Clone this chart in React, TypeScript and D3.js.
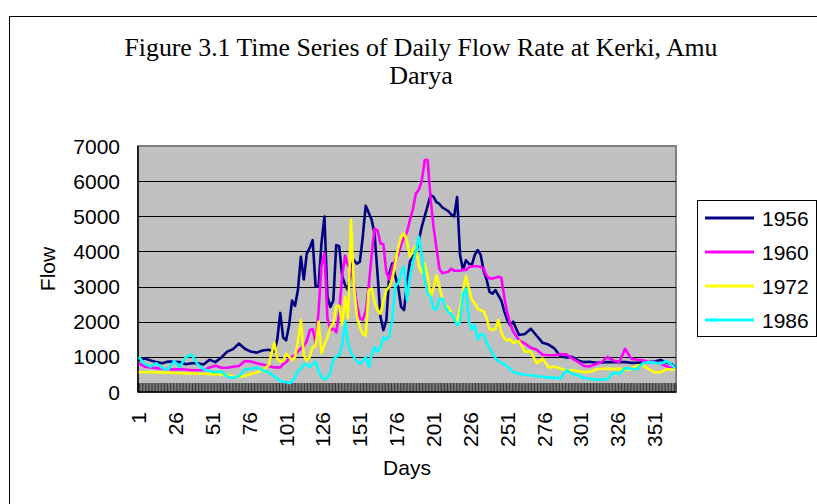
import React, { useEffect, useRef } from 'react';
import * as d3 from 'd3';

// day numbers the values were read at (denser where the flow moves fast)
const days = [
  1, 5, 9, 13, 17, 21, 25, 29, 33, 37, 41, 45, 49, 53, 57, 61, 65, 69, 73, 77, 81, 85, 89, 93,
  95, 97, 99, 101, 103, 105, 107, 109, 111, 113,
  115, 117, 119, 121, 123, 125, 127, 129, 131, 133,
  135, 137, 139, 141, 143, 145, 147, 149, 151, 153,
  155, 157, 159, 161, 163, 165, 167, 169, 171, 173,
  175, 177, 179, 181, 183, 185, 187, 189, 191, 193,
  195, 197, 199, 201, 203, 205, 207, 209, 211, 213,
  215, 217, 219, 221, 223, 225, 227, 229, 231, 233,
  235, 237, 239, 241, 243, 245, 247, 249, 251, 253,
  255,
  259, 263, 267, 271, 275, 279, 283, 287, 291, 295,
  299, 303, 307, 311, 315, 319, 323, 327, 331, 335,
  339, 343, 347, 351, 355, 359, 363, 365,
];

const flow1956 = [
  900, 950, 900, 850, 820, 870, 860, 850, 790, 820, 820, 780, 920, 850, 980, 1150, 1220, 1380, 1230, 1150, 1120, 1180, 1200, 1150,
  1500, 2250, 1550, 1470, 1900, 2600, 2450, 2900, 3850, 3200,
  3940, 4100, 4320, 3000, 3000, 4250, 4990, 2700, 2420, 2600,
  4180, 4150, 3300, 3050, 2900, 3560, 3750, 3650, 3700, 4420,
  5300, 5100, 4900, 4500, 3370, 2140, 1760, 2040, 3370, 3660,
  3300, 2990, 2420, 2330, 3100, 3700, 3850, 3940, 4320, 4700,
  5000, 5300, 5600, 5550, 5400, 5350, 5250, 5200, 5150, 5050,
  5000, 5550, 3900, 3470, 3750, 3650, 3620, 3900, 4040, 3900,
  3450, 3200, 2850, 2800, 2900, 2750, 2600, 2300, 2050, 1900,
  2000,
  1620, 1650, 1800, 1600, 1400, 1350, 1240, 1020, 980, 1000,
  900, 850, 860, 830, 840, 850, 855, 850, 850, 830,
  830, 850, 850, 870, 910, 840, 780, 700,
];

const flow1960 = [
  820, 720, 700, 680, 660, 650, 640, 650, 640, 620, 620, 620, 700, 750, 690, 690, 720, 740, 880, 870, 820, 780, 740, 700,
  700, 700, 790, 850, 950, 1000, 1060, 1150, 1240, 1300,
  1450, 1760, 1790, 1400, 2300, 3600, 3950, 2100, 1760, 1800,
  1700, 2250, 3300, 3880, 3600, 3500, 3100, 2500, 2100, 2050,
  2300, 3000, 3900, 4650, 4600, 4230, 4200, 3400, 3200, 3550,
  3750, 3900, 4200, 4400, 4550, 4900, 5200, 5650, 5750, 6000,
  6600, 6600, 5500, 4700, 4100, 3500, 3380, 3400, 3420, 3510,
  3450, 3450, 3450, 3480, 3470, 3550, 3580, 3580, 3580, 3560,
  3520, 3300, 3230, 3230, 3250, 3280, 3250, 2700, 2250, 1950,
  1720,
  1470, 1380, 1260, 1200, 1060, 1045, 1045, 1070, 1070, 960,
  860, 740, 730, 790, 850, 1000, 900, 850, 1230, 950,
  920, 900, 855, 850, 810, 730, 670, 670,
];

const flow1972 = [
  560, 560, 565, 560, 555, 550, 540, 540, 530, 530, 520, 520, 510, 510, 500, 480, 440, 420, 460, 510, 560, 620, 760, 1400,
  950, 860, 880, 1090, 1000, 900, 1000, 1450, 2050, 1050,
  900, 1000, 1280, 1300, 2000, 1100, 1350, 1550, 1850, 1950,
  2450, 2450, 1900, 2700, 2100, 4900, 3000, 2140, 1850, 1660,
  1600, 2900, 2950, 2550, 2330, 2230, 2580, 2900, 2990, 3200,
  3650, 4100, 4420, 4510, 4300, 3850, 4040, 4150, 3600, 3400,
  3650, 3300, 2700, 2950, 3320, 3000, 2650, 2450, 2420, 2250,
  2100, 2000, 2400, 2900, 3300, 2950, 2620, 2520, 2370, 2330,
  2300, 2100, 1800, 1760, 1790, 2050, 1700, 1520, 1470, 1500,
  1400,
  1450, 1150, 1150, 820, 950, 700, 720, 670, 620, 620,
  600, 570, 570, 640, 660, 665, 650, 665, 630, 650,
  760, 760, 650, 560, 560, 650, 640, 640,
];

const flow1986 = [
  1000, 800, 720, 820, 680, 640, 880, 720, 1000, 1060, 780, 650, 600, 560, 580, 440, 400, 450, 640, 660, 700, 620, 560, 440,
  380, 310, 285, 285, 255, 290, 420, 600, 660, 790,
  780, 710, 800, 850, 600, 420, 360, 410, 560, 920,
  1015, 1030, 1350, 2000, 1380, 1090, 1000, 870, 810, 880,
  1000, 720, 1050, 1280, 1140, 1300, 1550, 1480, 1600, 2040,
  3000, 3100, 3370, 3560, 2600, 3300, 3700, 4000, 4420, 3900,
  3200, 2800, 2710, 2370, 2350, 2650, 2650, 2420, 2270, 2230,
  2100, 1900, 2000, 2800, 2950, 2000, 1780, 1900, 1500, 1650,
  1620, 1420, 1250, 1100, 960, 880, 830, 790, 730, 640,
  570,
  520, 490, 480, 450, 430, 410, 410, 380, 620, 520,
  470, 400, 380, 350, 350, 370, 550, 520, 680, 660,
  640, 820, 850, 830, 810, 880, 760, 680,
];

const seriesNames = ['1956', '1960', '1972', '1986'];
const seriesValues = [flow1956, flow1960, flow1972, flow1986];
const seriesColors = ['#000080', '#ff00ff', '#ffff00', '#00ffff'];

const yTicks = [0, 1000, 2000, 3000, 4000, 5000, 6000, 7000];
const xTickLabels = [1, 26, 51, 76, 101, 126, 151, 176, 201, 226, 251, 276, 301, 326, 351];
const dayCount = 365;

const sans = '"Liberation Sans", Arial, sans-serif';
const serif = '"Liberation Serif", "Times New Roman", serif';

const App = () => {
  const svgRef = useRef(null);

  useEffect(() => {
    const svg = d3.select(svgRef.current);
    svg.selectAll('*').remove();

    const width = 817;
    const height = 504;
    const plot = { left: 138, top: 146, right: 676, bottom: 392 };

    // chart frame
    svg.append('rect').attr('width', width).attr('height', height).attr('fill', '#fff');
    svg.append('rect')
      .attr('x', 9.5).attr('y', 16.5)
      .attr('width', 900).attr('height', 600)
      .attr('fill', 'none').attr('stroke', '#000');

    // title (two lines, as in the original)
    svg.append('text')
      .attr('x', 421).attr('y', 56)
      .attr('text-anchor', 'middle')
      .attr('font-family', serif).attr('font-size', 26)
      .attr('textLength', 593).attr('lengthAdjust', 'spacingAndGlyphs')
      .text('Figure 3.1 Time Series of Daily Flow Rate at Kerki, Amu');
    svg.append('text')
      .attr('x', 421).attr('y', 84)
      .attr('text-anchor', 'middle')
      .attr('font-family', serif).attr('font-size', 26)
      .text('Darya');

    // each day is one category slot
    const x = d3.scaleLinear().domain([0.5, dayCount + 0.5]).range([plot.left, plot.right]);
    const y = d3.scaleLinear().domain([0, 7000]).range([plot.bottom, plot.top]);

    // plot area
    svg.append('rect')
      .attr('x', plot.left).attr('y', plot.top)
      .attr('width', plot.right - plot.left).attr('height', plot.bottom - plot.top)
      .attr('fill', '#c0c0c0').attr('stroke', '#808080').attr('stroke-width', 2);

    // gridlines
    svg.append('g')
      .selectAll('line')
      .data(yTicks.filter(t => t > 0 && t < 7000))
      .join('line')
      .attr('x1', plot.left).attr('x2', plot.right)
      .attr('y1', d => Math.round(y(d)) + 0.5).attr('y2', d => Math.round(y(d)) + 0.5)
      .attr('stroke', '#000');

    // day tick marks along the bottom
    svg.append('g')
      .selectAll('line')
      .data(d3.range(0, dayCount + 1))
      .join('line')
      .attr('x1', d => x(d + 0.5)).attr('x2', d => x(d + 0.5))
      .attr('y1', plot.bottom - 9).attr('y2', plot.bottom)
      .attr('stroke', '#222').attr('stroke-width', 0.9);

    // axis lines
    svg.append('line')
      .attr('x1', plot.left).attr('x2', plot.left)
      .attr('y1', plot.top).attr('y2', plot.bottom)
      .attr('stroke', '#000').attr('stroke-width', 1.5);
    svg.append('line')
      .attr('x1', plot.left).attr('x2', plot.right)
      .attr('y1', plot.bottom).attr('y2', plot.bottom)
      .attr('stroke', '#000').attr('stroke-width', 1.5);

    // y tick labels
    svg.append('g')
      .selectAll('text')
      .data(yTicks)
      .join('text')
      .attr('x', 120).attr('y', d => y(d))
      .attr('text-anchor', 'end').attr('dominant-baseline', 'central')
      .attr('font-family', sans).attr('font-size', 21)
      .text(d => `${d}`);

    // x tick labels, rotated
    svg.append('g')
      .selectAll('text')
      .data(xTickLabels)
      .join('text')
      .attr('transform', d => `translate(${x(d)},412) rotate(-90)`)
      .attr('text-anchor', 'end').attr('dominant-baseline', 'central')
      .attr('font-family', sans).attr('font-size', 21)
      .text(d => `${d}`);

    // axis titles
    svg.append('text')
      .attr('transform', 'translate(47,269) rotate(-90)')
      .attr('text-anchor', 'middle').attr('dominant-baseline', 'central')
      .attr('font-family', sans).attr('font-size', 21)
      .text('Flow');
    svg.append('text')
      .attr('x', (plot.left + plot.right) / 2).attr('y', 467)
      .attr('text-anchor', 'middle').attr('dominant-baseline', 'central')
      .attr('font-family', sans).attr('font-size', 21)
      .text('Days');

    // series lines
    const line = d3.line<number>()
      .x((_, i) => x(days[i]))
      .y(d => y(d));

    seriesValues.forEach((values, idx) => {
      svg.append('path')
        .datum(values)
        .attr('fill', 'none')
        .attr('stroke', seriesColors[idx])
        .attr('stroke-width', 2.6)
        .attr('stroke-linejoin', 'round')
        .attr('d', line);
    });

    // legend
    const legend = svg.append('g');
    legend.append('rect')
      .attr('x', 697.5).attr('y', 200.5)
      .attr('width', 119).attr('height', 136)
      .attr('fill', '#fff').attr('stroke', '#000');
    const rowY = d3.scalePoint().domain(seriesNames).range([218, 320]);
    seriesNames.forEach((name, idx) => {
      legend.append('line')
        .attr('x1', 705).attr('x2', 754)
        .attr('y1', rowY(name)).attr('y2', rowY(name))
        .attr('stroke', seriesColors[idx]).attr('stroke-width', 3);
      legend.append('text')
        .attr('x', 762).attr('y', rowY(name))
        .attr('dominant-baseline', 'central')
        .attr('font-family', sans).attr('font-size', 21)
        .text(name);
    });
  }, []);

  return (
    <svg
      ref={svgRef}
      width={817}
      height={504}
      style={{ position: 'absolute', left: 0, top: 0, display: 'block' }}
    />
  );
};

export default App;
